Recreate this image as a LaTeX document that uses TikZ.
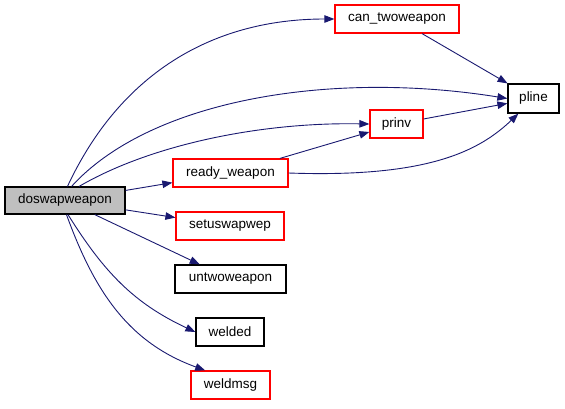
\documentclass[tikz,border=0pt]{standalone}
\usepackage{fontspec}
\setmainfont{Liberation Sans}
\usepackage{tikz}
\usetikzlibrary{arrows.meta}
\definecolor{edgeBlue}{HTML}{191970}
\definecolor{fnRed}{HTML}{FF0000}
\definecolor{rootGray}{HTML}{BFBFBF}

\begin{document}
\begin{tikzpicture}[x=1pt, y=1pt,
    fn/.style={draw=black, line width=1.2pt, minimum height=28pt, inner sep=0pt,
               font=\fontsize{13.5}{16}\selectfont},
    fnlink/.style={fn, draw=fnRed},
    call/.style={draw=edgeBlue, line width=0.9pt,
                 -{Triangle[length=10pt, width=7.5pt, fill=edgeBlue]}}]
  \useasboundingbox (0,0) rectangle (565,-408);
  % callee boxes
  \node[fn, fill=rootGray, minimum width=120pt, minimum height=27pt] (dos) at (65,-200.5) {doswapweapon};
  \node[fnlink, minimum width=124pt] (can) at (397,-19) {can\_twoweapon};
  \node[fn, minimum width=51pt, minimum height=29pt] (pline) at (533.5,-98.5) {pline};
  \node[fnlink, minimum width=53pt] (prinv) at (396.5,-124) {prinv};
  \node[fnlink, minimum width=115pt] (ready) at (230.5,-173) {ready\_weapon};
  \node[fnlink, minimum width=108pt] (setus) at (230,-226) {setuswapwep};
  \node[fn, minimum width=111pt] (untwo) at (230.5,-279) {untwoweapon};
  \node[fn, minimum width=68pt] (welded) at (230,-332) {welded};
  \node[fnlink, minimum width=79pt] (weldmsg) at (230.5,-385) {weldmsg};
  % straight calls
  \foreach \from/\to in {dos/ready, dos/setus, dos/untwo, can/pline, prinv/pline, ready/prinv}
    \draw[call] (\from) -- (\to);
  % curved calls
  \draw[call] (dos.80) to[out=65, in=180] (can.west);
  \draw[call] (dos.65) .. controls (150,-100) and (330,-70) .. (pline.west);
  \draw[call] (dos.45) .. controls (150,-145) and (260,-122) .. (prinv.west);
  \draw[call] (dos.-78) to[out=-58, in=155] (welded.west);
  \draw[call] (dos.-84) to[out=-70, in=160] (weldmsg.150);
  \draw[call] (ready.east) .. controls (430,-178) and (480,-150) .. (pline.-135);
\end{tikzpicture}
\end{document}
